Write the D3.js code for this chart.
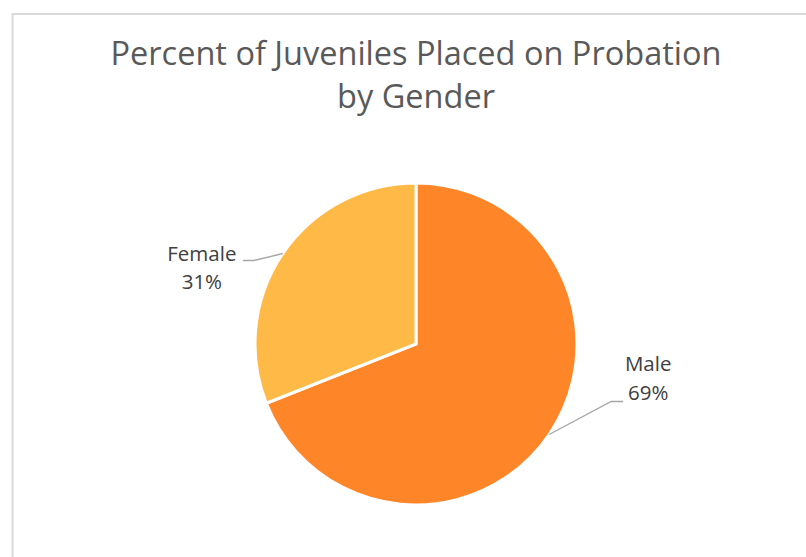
<!DOCTYPE html>
<html>
<head>
<meta charset="utf-8">
<script src="https://cdn.jsdelivr.net/npm/d3@7"></script>
<style>
  body { margin: 0; background: #fff; }
  svg { display: block; }
</style>
</head>
<body>
<script>
// chart data
var categories = ["Male", "Female"];
var values = [69, 31];
var colours = ["#FE8629", "#FFB947"];
var titleLines = ["Percent of Juveniles Placed on Probation", "by Gender"];

var width = 806,
    height = 557;

var cx = 416, cy = 344, radius = 161;

var svg = d3.select("body")
    .append("svg")
    .attr("width", width)
    .attr("height", height);

// chart frame
svg.append("rect")
    .attr("x", 12.5)
    .attr("y", 14)
    .attr("width", 820)
    .attr("height", 600)
    .attr("fill", "#fff")
    .attr("stroke", "#d9d9d9")
    .attr("stroke-width", 2);

// title
svg.append("g").selectAll("text")
    .data(titleLines)
    .enter()
    .append("text")
    .attr("x", cx)
    .attr("y", function(d, i){ return 65 + i * 43; })
    .attr("text-anchor", "middle")
    .attr("font-family", "'Open Sans', sans-serif")
    .attr("font-size", 32.5)
    .attr("fill", "#595959")
    .text(function(d){ return d; });

var pie = d3.pie().sort(null).value(function(d){ return d; });
var arc = d3.arc().innerRadius(0).outerRadius(radius);
var colour = d3.scaleOrdinal().domain(categories).range(colours);

var arcs = pie(values);

var g = svg.append("g")
    .attr("transform", "translate(" + cx + "," + cy + ")");

g.selectAll(".slice")
    .data(arcs)
    .enter()
    .append("path")
    .attr("class", "slice")
    .attr("d", arc)
    .attr("fill", function(d, i){ return colour(categories[i]); })
    .attr("stroke", "#fff")
    .attr("stroke-width", 3)
    .attr("stroke-linejoin", "miter");

// leader lines + data labels
var edgeArc = d3.arc().innerRadius(radius).outerRadius(radius);
var elbow = [[62, -33], [-29, 7]];   // bend of the leader line from the slice edge
var tail = [12, -11];                 // horizontal bit after the bend

arcs.forEach(function(d, i){
    var p = edgeArc.centroid(d);
    var e = [p[0] + elbow[i][0], p[1] + elbow[i][1]];
    var f = [e[0] + tail[i], e[1]];
    g.append("polyline")
        .attr("points", [p, e, f].map(function(q){ return q.join(","); }).join(" "))
        .attr("fill", "none")
        .attr("stroke", "#a6a6a6")
        .attr("stroke-width", 1.3);

    var right = tail[i] > 0;
    var tx = right ? f[0] + 25 : f[0] - 41;
    var ty = right ? f[1] - 30 : f[1];
    var t = g.append("text")
        .attr("text-anchor", "middle")
        .attr("font-family", "'Open Sans', sans-serif")
        .attr("font-size", 20.5)
        .attr("fill", "#404040");
    t.append("tspan").attr("x", tx).attr("y", ty).text(categories[i]);
    t.append("tspan").attr("x", tx).attr("dy", 28.5).text(d3.format(".0%")(values[i] / d3.sum(values)));
});
</script>
</body>
</html>
